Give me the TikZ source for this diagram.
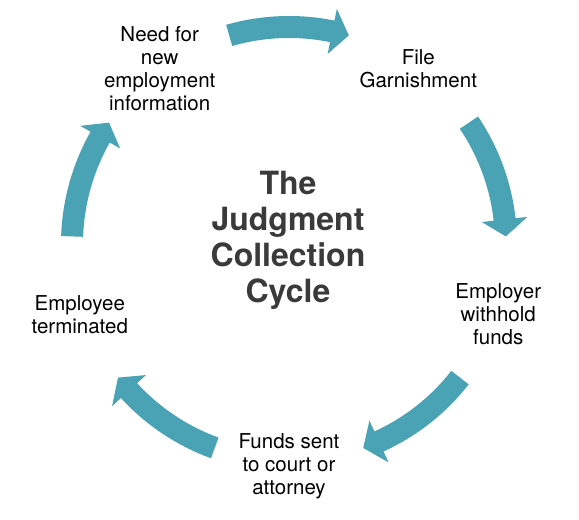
\documentclass[tikz,border=0pt]{standalone}
\usepackage{fontspec}
\setmainfont{TeX Gyre Heros}
\usetikzlibrary{positioning}

\definecolor{cycleteal}{RGB}{74,163,181}
\definecolor{titlegray}{RGB}{58,58,58}

\tikzset{
	steplabel/.style={align=center, text=black, font=\fontsize{20.5}{23}\selectfont, inner sep=0pt, yshift=-2.5pt},
	cycletitle/.style={align=center, text=titlegray, font=\fontsize{32}{36}\selectfont\bfseries, inner sep=0pt},
	arrowfill/.style={fill=cycleteal}
}

% block arrow on the ring, #1 = middle angle
\newcommand{\cyclearrow}[1]{%
	\fill[arrowfill, shift={(hub)}]
	(#1+16:228pt) arc[start angle=#1+16, end angle=#1-11.5, radius=228pt]
	-- (#1-11.5:240pt) -- (#1-16:217pt) -- (#1-11.5:194pt)
	-- (#1-11.5:206pt) arc[start angle=#1-11.5, end angle=#1+16, radius=206pt]
	-- cycle;}

\begin{document}
\begin{tikzpicture}[x=1pt,y=1pt]
	\useasboundingbox (0,0) rectangle (579,520);
	\coordinate (hub) at (289,276);
	
	\node[cycletitle] (title) at (288,280) {The\\Judgment\\Collection\\Cycle};
	
	\node[steplabel] (file) at ([shift={(54:220pt)}]hub) {File\\Garnishment};
	\node[steplabel] (withhold) at ([shift={(-18:220pt)}]hub) {Employer\\withhold\\funds};
	\node[steplabel] (funds) at ([shift={(-90:220pt)}]hub) {Funds sent\\to court or\\attorney};
	\node[steplabel] (terminated) at ([shift={(198:220pt)}]hub) {Employee\\terminated};
	\node[steplabel] (newjob) at ([shift={(126:220pt)}]hub) {Need for\\new\\employment\\information};
	
	\foreach \a in {90,18,-54,-126,162}
		\cyclearrow{\a};
\end{tikzpicture}
\end{document}
